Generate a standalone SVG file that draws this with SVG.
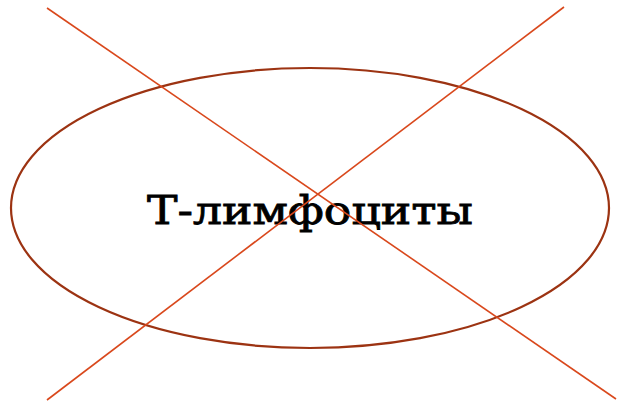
<svg xmlns="http://www.w3.org/2000/svg" width="618" height="402" viewBox="0 0 618 402">
<style>
.cross{stroke:#D9481C;stroke-width:1.6;fill:none}
.node{fill:none;stroke:#9C3312;stroke-width:2.2}
.lbl{font-family:"DejaVu Serif","Liberation Serif",serif;font-size:39px;fill:#000;stroke:#000;stroke-width:0.8}
</style>
<rect width="618" height="402" fill="#fff"/>
<g id="node-t">
<ellipse class="node" cx="310" cy="208" rx="299" ry="140"/>
<text class="lbl" x="310" y="224" text-anchor="middle" textLength="326" lengthAdjust="spacingAndGlyphs">Т-лимфоциты</text>
</g>
<g id="connectors">
<line class="cross" x1="47" y1="8" x2="616" y2="399"/>
<line class="cross" x1="564" y1="7" x2="47" y2="400"/>
</g>
</svg>
